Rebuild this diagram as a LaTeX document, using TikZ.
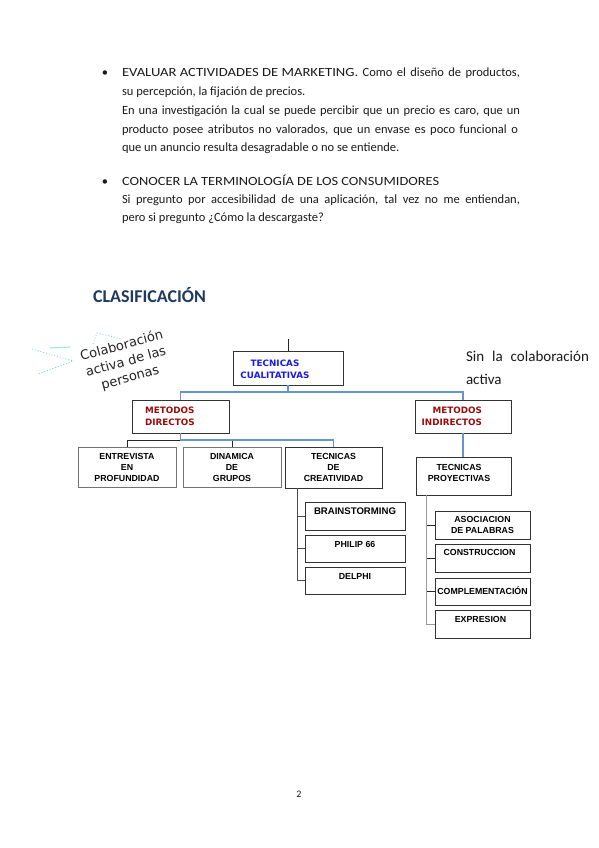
\documentclass[tikz,border=0pt]{standalone}
\usepackage{fontspec}
\setmainfont{Carlito}[BoldFont={Carlito Bold}]
\newfontfamily\dejavu{DejaVu Sans}[BoldFont={DejaVu Sans Bold}]
\newfontfamily\arialf{Liberation Sans}[BoldFont={Liberation Sans Bold}]
\definecolor{lineblue}{HTML}{6894CC}
\definecolor{tcblue}{HTML}{1A1AF0}
\definecolor{mred}{HTML}{9A0C0C}
\definecolor{headblue}{HTML}{1F3A60}
\definecolor{callc}{HTML}{7ED8E4}
\definecolor{bodyc}{HTML}{1A1A1A}
\begin{document}
\begin{tikzpicture}[x=1pt,y=-1pt,
  every node/.style={inner sep=0pt, outer sep=0pt},
  body/.style={anchor=base west, text=bodyc, font=\fontsize{12.5}{15}\selectfont},
  bul/.style={anchor=base, text=bodyc, font=\fontsize{12.5}{15}\selectfont},
  box/.style={draw=black!80, line width=0.8pt},
  gbox/.style={draw=black!55, line width=1pt},
  blueline/.style={draw=lineblue, line width=1.3pt},
  blk/.style={draw=black!85, line width=0.9pt},
  gline/.style={draw=black!70, line width=0.9pt},
  dia/.style={font=\dejavu\bfseries\fontsize{8.8}{12.5}\selectfont},
  ari/.style={font=\arialf\bfseries\fontsize{8.8}{11}\selectfont, align=center, text=black}
]
\useasboundingbox (0,0) rectangle (599,848);
\fill[white] (0,0) rectangle (599,848);

% ---- bullet texts ----
\node[bul] (b1) at (105,77) {\textbullet};
\node[body] (l1) at (122,77) {\makebox[398pt][s]{\scalebox{1.17}[1]{EVALUAR ACTIVIDADES DE MARKETING.} Como el diseño de productos,}};
\node[body] (l2) at (122,96) {su percepción, la fijación de precios.};
\node[body] (l3) at (122,114) {\makebox[398pt][s]{En una investigación la cual se puede percibir que un precio es caro, que un}};
\node[body] (l4) at (122,133) {\makebox[396pt][s]{producto posee atributos no valorados, que un envase es poco funcional o}};
\node[body] (l5) at (122,151) {que un anuncio resulta desagradable o no se entiende.};

\node[bul] (b2) at (105,185) {\textbullet};
\node[body] (m1) at (122,185) {\scalebox{1.15}[1]{CONOCER LA TERMINOLOGÍA DE LOS CONSUMIDORES}};
\node[body] (m2) at (122,203) {\makebox[398pt][s]{Si pregunto por accesibilidad de una aplicación, tal vez no me entiendan,}};
\node[body] (m3) at (122,221) {pero si pregunto ¿Cómo la descargaste?};

% ---- heading ----
\node[anchor=base west, text=headblue, font=\bfseries\fontsize{18}{20}\selectfont] (head) at (93,302) {CLASIFICACIÓN};

% ---- callout ----
\draw[callc, dotted, line width=0.9pt] (32,349) -- (73,361) -- (38,374);
\draw[callc, dotted, line width=0.9pt] (93,344) -- (97,333) -- (122,339);
\draw[callc!70, line width=1.2pt] (50,348) -- (70,347);
\node[rotate=15, align=center, text=black!85, font=\dejavu\fontsize{13}{16.5}\selectfont] (cal) at (126,362) {Colaboración\\activa de las\\personas};

% ---- side note ----
\node[body, font=\fontsize{15}{17}\selectfont] (sin1) at (466,361) {\makebox[123pt][s]{Sin la colaboración}};
\node[body, font=\fontsize{15}{17}\selectfont] (sin2) at (466,384) {activa};

% ---- boxes ----
\node[box, minimum width=110pt, minimum height=34pt] (tc) at (288,368) {};
\node[dia, align=center, text=tcblue] (tct) at (275,369.5) {TECNICAS\\CUALITATIVAS};
\coordinate (tctop) at (288,339);
\draw[blk] (tctop) -- (tc.north);

\node[box, minimum width=97pt, minimum height=33pt] (md) at (180.5,416.5) {};
\node[dia, align=left, anchor=west, text=mred] (mdt) at (145,416.5) {METODOS\\DIRECTOS};
\node[box, minimum width=96pt, minimum height=33pt] (mi) at (463,416.5) {};
\node[dia, align=right, anchor=east, text=mred] (mit) at (482,416.5) {METODOS\\INDIRECTOS};

\draw[blueline] (tc.south) -- ++(0,7) -| (md.north);
\draw[blueline] (tc.south) -- ++(0,7) -| (mi.north);

\node[gbox, minimum width=98pt, minimum height=40pt] (ep) at (127,467) {};
\node[ari] (ept) at (127,467) {ENTREVISTA\\EN\\PROFUNDIDAD};
\node[gbox, minimum width=98pt, minimum height=40pt] (dg) at (232,467) {};
\node[ari] (dgt) at (232,467) {DINAMICA\\DE\\GRUPOS};
\node[box, minimum width=97pt, minimum height=41pt] (tdc) at (333.5,467.5) {};
\node[ari] (tdct) at (333.5,467.5) {TECNICAS\\DE\\CREATIVIDAD};

\coordinate (jd) at (180.5,440);
\draw[blk] (jd) -| (ep.north);
\draw[blk] (dg.north) -- (dg.north |- jd);
\draw[blueline] (md.south) -- (jd) -| (tdc.north);

% creativity children
\node[box, minimum width=100pt, minimum height=28pt] (bs) at (355,516) {};
\node[ari, font=\arialf\bfseries\fontsize{9.6}{11}\selectfont] (bst) at ([yshift=-9pt]bs.north) {BRAINSTORMING};
\node[box, minimum width=100pt, minimum height=27pt] (ph) at (355,548.5) {};
\node[ari] (pht) at ([yshift=-9pt]ph.north) {PHILIP 66};
\node[box, minimum width=100pt, minimum height=27pt] (de) at (355,580.5) {};
\node[ari] (det) at ([yshift=-9.5pt]de.north) {DELPHI};

\coordinate (tv) at ([xshift=12pt]tdc.south west);
\draw[gline] (tv) |- (de.west);
\draw[gline] (tv) |- (bs.west);
\draw[gline] (tv) |- (ph.west);

% projective
\node[box, minimum width=95pt, minimum height=38pt] (tp) at (463.5,476) {};
\node[ari] (tpt) at (459,472.5) {TECNICAS\\PROYECTIVAS};
\draw[blueline] (mi.south) -- (mi.south |- tp.north);

\node[box, minimum width=95pt, minimum height=28pt] (ap) at (482.5,525) {};
\node[ari] (apt) at (482.5,525) {ASOCIACION\\DE PALABRAS};
\node[box, minimum width=95pt, minimum height=28pt] (co) at (482.5,558) {};
\node[ari] (cot) at ([yshift=-8pt,xshift=-3pt]co.north) {CONSTRUCCION};
\node[box, minimum width=95pt, minimum height=27pt] (cm) at (482.5,591.5) {};
\node[ari] (cmt) at (482.5,591) {COMPLEMENTACIÓN};
\node[box, minimum width=95pt, minimum height=28pt] (ex) at (482.5,624) {};
\node[ari] (ext) at ([yshift=-9pt,xshift=-2pt]ex.north) {EXPRESION};

\coordinate (tv2) at ([xshift=10pt]tp.south west);
\draw[blk] (tv2) |- (cm.west);
\draw[blk] (tv2) |- (ap.west);
\draw[blk] (tv2) |- (co.west);
\draw[draw=black!40, line width=0.9pt] (tv2) |- (ex.west);

% page number
\node[anchor=base, text=bodyc, font=\fontsize{10}{12}\selectfont] (pg) at (299,797) {2};
\end{tikzpicture}
\end{document}
